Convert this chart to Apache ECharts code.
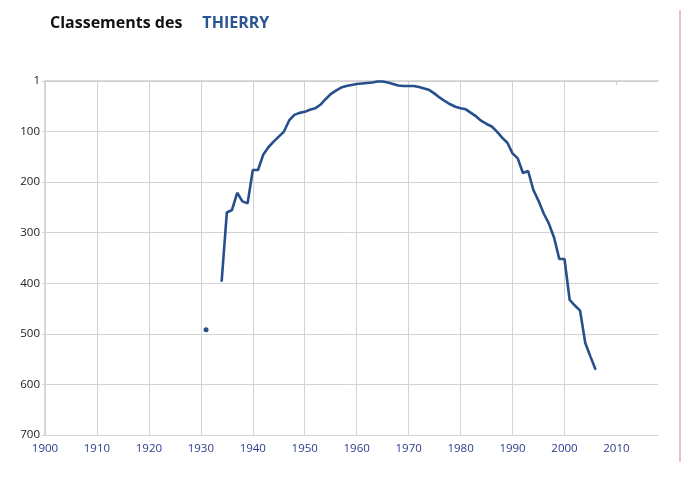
<!DOCTYPE html>
<html>
<head>
<meta charset="utf-8">
<script src="https://cdn.jsdelivr.net/npm/echarts@6/dist/echarts.min.js"></script>
<style>
  html, body { margin: 0; padding: 0; background: #fff; }
  #chart { width: 688px; height: 486px; }
</style>
</head>
<body>
<div id="chart"></div>
<script>
// rang du prénom THIERRY par année
const years = [
  1934, 1935, 1936, 1937, 1938, 1939, 1940, 1941, 1942, 1943,
  1944, 1945, 1946, 1947, 1948, 1949, 1950, 1951, 1952, 1953,
  1954, 1955, 1956, 1957, 1958, 1959, 1960, 1961, 1962, 1963,
  1964, 1965, 1966, 1967, 1968, 1969, 1970, 1971, 1972, 1973,
  1974, 1975, 1976, 1977, 1978, 1979, 1980, 1981, 1982, 1983,
  1984, 1985, 1986, 1987, 1988, 1989, 1990, 1991, 1992, 1993,
  1994, 1995, 1996, 1997, 1998, 1999, 2000, 2001, 2002, 2003,
  2004, 2005, 2006
]
const ranks = [
  397, 260, 255, 221, 238, 242, 176, 176, 146, 131,
  120, 110, 100, 78, 67, 63, 61, 57, 54, 47,
  36, 26, 19, 13, 10, 8, 6, 5, 4, 3,
  1, 1, 3, 6, 9, 10, 10, 10, 12, 15,
  18, 25, 33, 40, 46, 51, 54, 56, 63, 70,
  79, 85, 90, 100, 112, 122, 143, 153, 182, 178,
  215, 237, 262, 282, 310, 352, 352, 433, 444, 454,
  518, 545, 571
]
// point isolé
const soloYears = [1931]
const soloRanks = [492]

const xTicks = [1900, 1910, 1920, 1930, 1940, 1950, 1960, 1970, 1980, 1990, 2000, 2010]

const chart = echarts.init(document.getElementById('chart'))
chart.setOption({
  animation: false,
  backgroundColor: '#fff',
  title: {
    left: 45,
    top: 10,
    text: '{a|Classements des}{b|THIERRY}',
    textStyle: {
      rich: {
        a: { fontFamily: 'Open Sans', fontWeight: 'bold', fontSize: 16, color: '#111' },
        b: { fontFamily: 'Open Sans', fontWeight: 'bold', fontSize: 16, color: '#2b5592', padding: [0, 0, 0, 20] }
      }
    }
  },
  graphic: [{
    type: 'line',
    shape: { x1: 680, y1: 10, x2: 680, y2: 462 },
    style: { stroke: '#e4b2b2', lineWidth: 1.5 }
  }],
  grid: { left: 45, right: 30, top: 81, bottom: 51 },
  xAxis: {
    type: 'value',
    min: 1900,
    max: 2018,
    interval: 10,
    axisLine: { show: true, lineStyle: { color: '#cfcfcf', width: 1.5 } },
    axisTick: { show: true, length: 4, customValues: xTicks, lineStyle: { color: '#cfcfcf' } },
    axisLabel: {
      customValues: xTicks,
      color: '#2e3a8f',
      fontFamily: 'Open Sans',
      fontSize: 11.5,
      margin: 8,
      formatter: v => String(v)
    },
    splitLine: { show: true, showMaxLine: false, lineStyle: { color: '#d3d3d3', width: 1 } }
  },
  yAxis: {
    type: 'value',
    inverse: true,
    min: 0,
    max: 700,
    interval: 100,
    axisLine: { show: true, lineStyle: { color: '#cfcfcf', width: 1.5 } },
    axisTick: { show: true, length: 3, lineStyle: { color: '#cfcfcf' } },
    axisLabel: {
      color: '#222',
      fontFamily: 'Open Sans',
      fontSize: 11.5,
      margin: 5,
      formatter: v => (v === 0 ? '1' : String(v))
    },
    splitLine: { show: true, lineStyle: { color: '#d3d3d3', width: 1 } }
  },
  series: [
    {
      type: 'line',
      data: years.map((y, i) => [y, ranks[i]]),
      showSymbol: false,
      lineStyle: { color: '#264f8c', width: 2.6 },
      itemStyle: { color: '#264f8c' }
    },
    {
      type: 'scatter',
      data: soloYears.map((y, i) => [y, soloRanks[i]]),
      symbolSize: 5,
      itemStyle: { color: '#264f8c', opacity: 1 }
    }
  ]
})
</script>
</body>
</html>
